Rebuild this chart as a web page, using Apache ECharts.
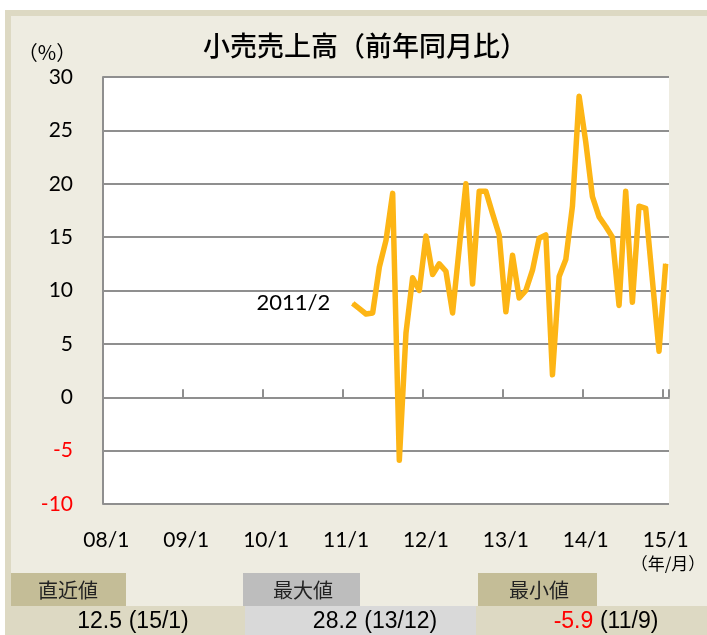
<!DOCTYPE html>
<html>
<head>
<meta charset="utf-8">
<script src="https://cdn.jsdelivr.net/npm/echarts@6/dist/echarts.min.js"></script>
<style>
body{margin:0;background:#fff;}
#chart{width:707px;height:635px;}
</style>
</head>
<body>
<div id="chart"></div>
<script>
// 小売売上高（前年同月比） 2011/2 - 2015/1
let startYear=2008;
let endYear=2015;
let padMonths=37; // 08/1 - 11/1 は空
let retail=[
	8.8,8.3,7.8,7.9,12.2,14.7,19.1,-5.9,6.0,11.2,10.0,
	15.1,11.5,12.5,11.8,7.9,14.0,20.0,10.6,19.3,19.3,17.2,15.2,
	8.0,13.3,9.3,10.0,11.9,14.9,15.2,2.1,11.3,12.9,17.9,28.2,
	23.9,18.8,16.9,16.0,15.0,8.6,19.3,8.9,17.9,17.7,11.0,4.3,
	12.5
];
let yTicks=[-10,-5,0,5,10,15,20,25,30];
let summaryHeads=["直近値","最大値","最小値"];
let summaryVals=["12.5","28.2","-5.9"];
let summaryDates=["(15/1)","(13/12)","(11/9)"];

let months=[];
for(let y=startYear;y<=endYear;y++){
	let m_max=(y==endYear)?1:12;
	for(let m=1;m<=m_max;m++){
		months.push(String(y%100).padStart(2,"0")+"/"+m);
	}
}
let seriesData=new Array(padMonths).fill(null).concat(retail);
seriesData[padMonths]={
	value:retail[0],
	label:{show:true,position:"left",distance:22,formatter:"2011/2",fontSize:22,fontFamily:"Lato",color:"#000"}
};

let latin="Lato, 'Liberation Sans', sans-serif";
let cjk="'Noto Sans CJK JP', sans-serif";
let narrow="'Liberation Sans Narrow', 'Liberation Sans', sans-serif";
let gridColor="#8f8f8f";

let line_echart=echarts.init(document.getElementById("chart"));

let graphics=[
	{type:"rect",z:-100,shape:{x:5,y:10,width:702,height:625},style:{fill:"#DDD9C3"}},
	{type:"rect",z:-99,shape:{x:11,y:16,width:696,height:619},style:{fill:"#EEECE1"}},
	// 表
	{type:"rect",z:-98,shape:{x:11,y:573,width:115,height:33},style:{fill:"#C4BD97"}},
	{type:"rect",z:-98,shape:{x:243,y:573,width:117,height:33},style:{fill:"#BDBDBD"}},
	{type:"rect",z:-98,shape:{x:478,y:573,width:119,height:33},style:{fill:"#C4BD97"}},
	{type:"rect",z:-98,shape:{x:11,y:606,width:234,height:29},style:{fill:"#DDD9C3"}},
	{type:"rect",z:-98,shape:{x:245,y:606,width:231,height:29},style:{fill:"#D9D9D9"}},
	{type:"rect",z:-98,shape:{x:476,y:606,width:231,height:29},style:{fill:"#DDD9C3"}},
	{type:"text",style:{text:"（%）",x:47,y:52,align:"center",verticalAlign:"middle",fontSize:20,fontFamily:cjk,fill:"#000"}},
	{type:"text",style:{text:"（年/月）",x:668,y:564,align:"center",verticalAlign:"middle",fontSize:17,fontFamily:cjk,fill:"#000"}}
];
let headX=[68,303,539];
let valX=[133,375,606];
for(let i=0;i<3;i++){
	graphics.push({type:"text",style:{text:summaryHeads[i],x:headX[i],y:590,align:"center",verticalAlign:"middle",fontSize:20,fontFamily:cjk,fill:"#222"}});
	let neg=parseFloat(summaryVals[i])<0;
	graphics.push({type:"text",style:{
		text:"{v|"+summaryVals[i]+"}  {d|"+summaryDates[i]+"}",
		x:valX[i],y:622,align:"center",verticalAlign:"middle",
		rich:{
			v:{fontSize:23,fontFamily:narrow,fill:neg?"#FF0000":"#000"},
			d:{fontSize:23,fontFamily:narrow,fill:"#000"}
		}
	}});
}

line_echart.setOption({
	backgroundColor:"#fff",
	animation:false,
	title:{
		text:"小売売上高（前年同月比）",
		left:360,
		top:27,
		textAlign:"center",
		textStyle:{fontFamily:cjk,fontSize:27,fontWeight:500,color:"#000"}
	},
	grid:{left:103,right:38,top:77,bottom:131,show:true,backgroundColor:"#fff",borderWidth:0},
	graphic:graphics,
	xAxis:[
		{
			type:"category",
			data:months,
			boundaryGap:true,
			axisLine:{show:false,onZero:false},
			axisTick:{show:false},
			axisLabel:{interval:11,margin:26,fontSize:21,fontFamily:latin,color:"#000"}
		},
		{
			type:"category",
			data:months,
			position:"bottom",
			boundaryGap:true,
			axisLine:{show:true,onZero:true,lineStyle:{color:gridColor,width:2}},
			axisTick:{show:true,inside:true,length:8,interval:11,lineStyle:{color:gridColor,width:2}},
			axisLabel:{show:false}
		}
	],
	yAxis:{
		type:"value",
		min:yTicks[0],
		max:yTicks[yTicks.length-1],
		interval:5,
		axisLine:{show:true,lineStyle:{color:gridColor,width:2}},
		axisTick:{show:false},
		splitLine:{lineStyle:{color:gridColor,width:2}},
		axisLabel:{
			margin:30,
			fontSize:21,
			fontFamily:latin,
			color:function(v){return v<0?"#FF0000":"#000";}
		}
	},
	series:[{
		type:"line",
		data:seriesData,
		xAxisIndex:0,
		symbol:"circle",
		symbolSize:1,
		showSymbol:true,
		connectNulls:false,
		itemStyle:{color:"#FDB515"},
		lineStyle:{color:"#FDB515",width:5.5,join:"round"},
		emphasis:{disabled:true}
	}]
});
</script>
</body>
</html>
